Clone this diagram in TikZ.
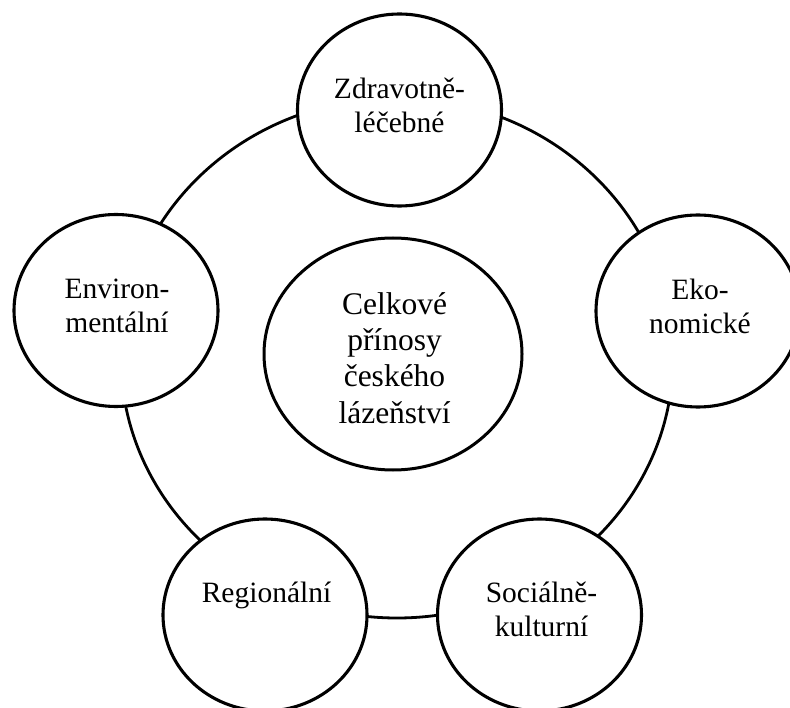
\documentclass[tikz,border=0pt]{standalone}
\usepackage{fontspec}
\setmainfont{Liberation Serif}
\usetikzlibrary{shapes.geometric}

\tikzset{
  ring/.style={ellipse, draw, line width=2.8pt, inner sep=0pt,
    minimum width=552pt, minimum height=520pt},
  bubble/.style={ellipse, draw, fill=white, line width=3.1pt, inner sep=0pt,
    minimum width=204pt, minimum height=192pt},
  core/.style={ellipse, draw, fill=white, line width=3pt, inner sep=0pt,
    minimum width=258pt, minimum height=232pt},
  lbl/.style={align=center, inner sep=0pt,
    font=\fontsize{29.5pt}{34pt}\selectfont},
  corelbl/.style={align=center, inner sep=0pt,
    font=\fontsize{31.5pt}{36.3pt}\selectfont},
}

\begin{document}
\begin{tikzpicture}[x=1pt, y=-1pt]
  \useasboundingbox (0,0) rectangle (790,708);
  \clip (0,0) rectangle (790,708);

  % ring that links the five areas
  \node[ring] (ring) at (397,358) {};

  % the five areas of benefit
  \node[bubble] (zdrav) at (399.5,110) {};
  \node[bubble] (env)   at (116,310.5) {};
  \node[bubble] (eko)   at (698,311)   {};
  \node[bubble] (reg)   at (265,615)   {};
  \node[bubble] (soc)   at (539.5,615) {};

  % central topic
  \node[core] (celk) at (393,354) {};

  % labels
  \node[lbl] (tzdrav) at ([yshift=5pt]zdrav.center) {Zdravotně-\\léčebné};
  \node[lbl] (tenv)   at ([xshift=1pt,yshift=4.5pt]env.center) {Environ-\\mentální};
  \node[lbl] (teko)   at ([xshift=2pt,yshift=5pt]eko.center) {Eko-\\nomické};
  \node[lbl] (treg)   at ([xshift=1.5pt,yshift=20pt]reg.center) {Regionální};
  \node[lbl] (tsoc)   at ([xshift=2pt,yshift=6pt]soc.center) {Sociálně-\\kulturní};
  \node[corelbl] (tcelk) at ([xshift=1.5pt,yshift=-4pt]celk.center)
    {Celkové\\přínosy\\českého\\lázeňství};
\end{tikzpicture}
\end{document}
